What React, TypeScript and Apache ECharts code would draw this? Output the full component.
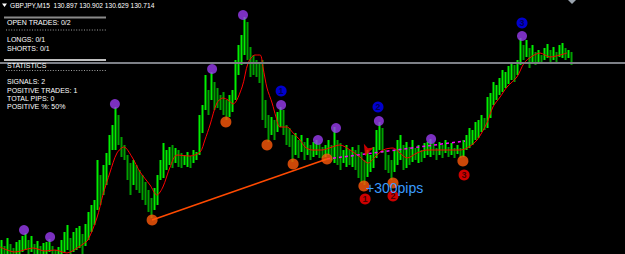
import React, { useEffect, useRef } from "react";
import * as echarts from "echarts";

// Bar highs / lows (GBPJPY M15), one value per bar
const HIGHS = [
  128.94, 128.88, 128.96, 128.90, 128.86, 128.92, 128.94, 128.98, 129.01, 128.94,
  128.98, 128.90, 128.93, 128.88, 128.91, 128.92, 128.95, 128.88, 128.84, 128.87,
  128.94, 129.02, 129.09, 128.96, 129.02, 129.06, 129.08, 129.00, 129.10, 129.22,
  129.29, 129.34, 129.74, 129.59, 129.69, 129.81, 129.99, 130.09, 130.27, 130.19,
  129.97, 129.89, 129.79, 129.71, 129.74, 129.69, 129.64, 129.59, 129.52, 129.44,
  129.36, 129.46, 129.59, 129.74, 129.91, 129.84, 129.87, 129.89, 129.86, 129.84,
  129.81, 129.79, 129.82, 129.78, 129.84, 129.82, 130.19, 130.29, 130.59, 130.44,
  130.62, 130.52, 130.46, 130.39, 130.42, 130.34, 130.39, 130.44, 130.74, 130.89,
  130.99, 131.17, 131.12, 130.87, 130.79, 130.74, 130.71, 130.74, 130.34, 130.19,
  130.17, 130.14, 130.22, 130.27, 130.24, 130.09, 130.06, 129.99, 130.01, 129.94,
  129.99, 129.92, 129.96, 129.89, 129.92, 129.94, 129.91, 129.87, 129.89, 129.94,
  129.89, 130.07, 129.94, 129.91, 129.84, 129.89, 129.84, 129.87, 129.84, 129.89,
  129.82, 129.74, 129.84, 129.79, 129.87, 130.04, 130.12, 130.06, 129.84, 129.79,
  129.74, 129.84, 129.94, 129.99, 129.89, 129.92, 129.87, 129.94, 129.86, 129.89,
  129.84, 129.91, 129.92, 129.95, 129.91, 129.86, 129.92, 129.89, 129.94, 129.87,
  129.91, 129.86, 129.89, 129.86, 129.94, 129.99, 130.06, 130.04, 130.12, 130.14,
  130.19, 130.16, 130.37, 130.41, 130.52, 130.49, 130.56, 130.64, 130.62, 130.68,
  130.72, 130.69, 130.74, 130.96, 130.89, 130.94, 130.86, 130.89, 130.82, 130.84,
  130.79, 130.86, 130.90, 130.84, 130.87, 130.82, 130.89, 130.91, 130.86, 130.84, 130.82,
];
const LOWS = [
  128.76, 128.76, 128.78, 128.76, 128.74, 128.78, 128.80, 128.82, 128.84, 128.80,
  128.82, 128.78, 128.79, 128.76, 128.78, 128.80, 128.82, 128.78, 128.76, 128.76,
  128.78, 128.82, 128.84, 128.80, 128.82, 128.84, 128.86, 128.80, 128.88, 128.94,
  129.02, 129.09, 129.24, 129.29, 129.39, 129.49, 129.69, 129.84, 129.84, 129.89,
  129.77, 129.74, 129.54, 129.39, 129.49, 129.44, 129.41, 129.34, 129.29, 129.22,
  129.16, 129.24, 129.29, 129.54, 129.56, 129.64, 129.69, 129.66, 129.71, 129.67,
  129.66, 129.69, 129.67, 129.66, 129.71, 129.74, 129.79, 130.01, 130.24, 130.19,
  130.34, 130.24, 130.26, 130.24, 130.19, 130.14, 130.17, 130.22, 130.34, 130.59,
  130.69, 130.79, 130.74, 130.57, 130.59, 130.57, 130.51, 130.14, 130.06, 129.92,
  129.99, 129.94, 130.02, 130.07, 129.99, 129.89, 129.87, 129.72, 129.79, 129.76,
  129.82, 129.74, 129.79, 129.74, 129.77, 129.79, 129.76, 129.76, 129.77, 129.79,
  129.74, 129.71, 129.69, 129.64, 129.71, 129.67, 129.69, 129.67, 129.64, 129.56,
  129.51, 129.49, 129.57, 129.62, 129.66, 129.76, 129.84, 129.81, 129.64, 129.61,
  129.54, 129.62, 129.69, 129.74, 129.64, 129.66, 129.69, 129.72, 129.74, 129.71,
  129.72, 129.76, 129.79, 129.77, 129.79, 129.74, 129.79, 129.76, 129.81, 129.77,
  129.79, 129.76, 129.80, 129.76, 129.77, 129.84, 129.86, 129.89, 129.94, 129.96,
  130.02, 130.04, 130.06, 130.16, 130.29, 130.34, 130.39, 130.42, 130.46, 130.50,
  130.54, 130.52, 130.59, 130.69, 130.74, 130.77, 130.66, 130.72, 130.69, 130.72,
  130.71, 130.74, 130.76, 130.72, 130.74, 130.71, 130.77, 130.76, 130.74, 130.76, 130.69,
];

// Moving average read at points along the red line: [bar index, price]
const MA_POINTS = [
  [-0.5, 128.87], [4.5, 128.82], [10.5, 128.86], [14.5, 128.83], [17.8, 128.84],
  [21.8, 128.81], [25.2, 128.86], [27.2, 128.9], [28.8, 128.94], [31.8, 129.16],
  [33.8, 129.39], [36.2, 129.62], [38.5, 129.81], [40.8, 129.87], [43.5, 129.77],
  [46.2, 129.62], [49.5, 129.49], [51.8, 129.39], [53.8, 129.47], [56.2, 129.67],
  [58.5, 129.79], [62.8, 129.78], [66.2, 129.82], [67.8, 129.94], [69.5, 130.09],
  [71.8, 130.31], [73.8, 130.36], [75.5, 130.34], [77.2, 130.3], [80.2, 130.47],
  [82.2, 130.71], [84.5, 130.79], [86.2, 130.79], [87.2, 130.66], [88.5, 130.46],
  [90.2, 130.31], [91.5, 130.17], [92.8, 130.07], [95.2, 130.07], [97.2, 130.01],
  [99.5, 129.94], [101.2, 129.87], [103.5, 129.84], [106.8, 129.84], [110.2, 129.87],
  [112.8, 129.89], [116.2, 129.84], [119.5, 129.77], [122.2, 129.71], [124.5, 129.77],
  [127.2, 129.84], [130.5, 129.86], [132.8, 129.81], [135.2, 129.76], [138.5, 129.81],
  [141.8, 129.84], [147.2, 129.84], [152.8, 129.84], [155.2, 129.86], [158.5, 129.94],
  [161.8, 130.11], [163.8, 130.27], [166.2, 130.37], [168.5, 130.47], [171.8, 130.57],
  [174.2, 130.71], [176.5, 130.77], [179.5, 130.81], [182.8, 130.77], [186.2, 130.79],
  [188.5, 130.81],
];

const PEAKS = [
  [7.5, 129.04], [16.2, 128.97], [37.8, 130.3], [70.2, 130.65], [80.5, 131.19],
  [93.2, 130.29], [105.5, 129.94], [111.5, 130.06], [125.8, 130.13], [143.2, 129.95],
  [173.5, 130.98],
];
const TROUGHS = [
  [50.2, 129.14], [74.8, 130.12], [88.5, 129.89], [97.2, 129.7], [108.5, 129.75],
  [120.8, 129.48], [130.5, 129.51], [153.8, 129.73],
];
const BLUE_SIGNALS = [[93.2, 130.43, "1"], [125.5, 130.27, "2"], [173.5, 131.11, "3"]];
const RED_SIGNALS = [[121.2, 129.35, "1"], [130.5, 129.38, "2"], [154.2, 129.59, "3"]];
const TREND_LINE = [[50.2, 129.14], [108.5, 129.75]];
const MAGENTA_LINE = [[108.5, 129.75], [154.5, 129.93]];
const ARROW = [[121.2, 129.78]];
const BID = 130.714;

const HEADER = "GBPJPY,M15  130.897 130.902 130.629 130.714";
const PANEL_TEXTS = [
  ["OPEN TRADES: 0/2", 22.5],
  ["LONGS: 0/1", 39.5],
  ["SHORTS: 0/1", 48.3],
  ["STATISTICS", 65],
  ["SIGNALS: 2", 81.7],
  ["POSITIVE TRADES: 1", 90.5],
  ["TOTAL PIPS: 0", 98.5],
  ["POSITIVE %: 50%", 106.8],
];
const PIPS_LABEL = "+300pips";

export default function App() {
  const ref = useRef<HTMLDivElement>(null);
  useEffect(() => {
    document.body.style.margin = "0";
    document.body.style.background = "#000";
    const chart = echarts.init(ref.current!, null, { renderer: "svg" });
    const bars = HIGHS.map((h, i) => {
      const mid = (h + LOWS[i]) / 2;
      const prevMid = i > 0 ? (HIGHS[i - 1] + LOWS[i - 1]) / 2 : mid;
      return [i, h, LOWS[i], mid >= prevMid ? 1 : 0];
    });
    const font = '7px "Liberation Sans", Arial, sans-serif';
    const headerFont = '6.6px "Liberation Sans", Arial, sans-serif';
    const panelGraphics: any[] = PANEL_TEXTS.map(([t, y]) => ({
      type: "text",
      x: 7,
      y: y as number,
      style: { text: t, fill: "#ffffff", font, textVerticalAlign: "middle" },
      z: 100,
    }));
    const dotted = (y: number) => ({
      type: "line",
      shape: { x1: 6, y1: y, x2: 106, y2: y },
      style: { stroke: "#a0a0a0", lineWidth: 1, lineDash: [1, 1.6] },
      z: 100,
    });
    const option: any = {
      animation: false,
      backgroundColor: "#000",
      grid: { left: 0, right: 0, top: 0, bottom: 0, containLabel: false },
      xAxis: { type: "value", min: -0.5, max: 207.83, show: false },
      yAxis: { type: "value", min: 128.8, max: 131.34, show: false, scale: true },
      series: [
        {
          type: "custom",
          clip: true,
          data: bars,
          renderItem: (params: any, api: any) => {
            const i = api.value(0);
            const hi = api.coord([i, api.value(1)]);
            const lo = api.coord([i, api.value(2)]);
            return {
              type: "line",
              shape: { x1: hi[0], y1: hi[1], x2: lo[0], y2: lo[1] },
              style: { stroke: api.value(3) ? "#00ee00" : "#00a000", lineWidth: 2 },
            };
          },
          markLine: {
            silent: true,
            symbol: "none",
            label: { show: false },
            lineStyle: { color: "#7d8087", width: 2, type: "solid" },
            data: [{ yAxis: BID }],
          },
          z: 1,
        },
        {
          type: "line",
          data: MA_POINTS,
          smooth: 0.3,
          showSymbol: false,
          lineStyle: { color: "#ff0000", width: 1 },
          z: 2,
        },
        {
          type: "line",
          data: TREND_LINE,
          showSymbol: false,
          lineStyle: { color: "#ff4a00", width: 1.5 },
          z: 3,
        },
        {
          type: "line",
          data: MAGENTA_LINE,
          showSymbol: false,
          lineStyle: { color: "#ff00ff", width: 1.5, type: [3, 3] },
          z: 3,
        },
        {
          type: "scatter",
          data: ARROW,
          symbol: "arrow",
          symbolSize: [8, 11],
          symbolRotate: 160,
          itemStyle: { color: "#ff0000" },
          z: 4,
        },
        {
          type: "scatter",
          data: PEAKS,
          symbolSize: 10,
          itemStyle: { color: "#9a3cf0" },
          z: 5,
        },
        {
          type: "scatter",
          data: TROUGHS,
          symbolSize: 11,
          itemStyle: { color: "#ff5a0a" },
          z: 5,
        },
        {
          type: "scatter",
          data: BLUE_SIGNALS,
          symbolSize: 11,
          itemStyle: { color: "#0000ff" },
          label: {
            show: true,
            position: "inside",
            formatter: (p: any) => p.value[2],
            color: "#000033",
            fontSize: 9,
            fontWeight: "bold",
            fontFamily: "Liberation Sans",
          },
          z: 6,
        },
        {
          type: "scatter",
          data: RED_SIGNALS,
          symbolSize: 11,
          itemStyle: { color: "#ff0000" },
          label: {
            show: true,
            position: "inside",
            formatter: (p: any) => p.value[2],
            color: "#220000",
            fontSize: 9,
            fontWeight: "bold",
            fontFamily: "Liberation Sans",
          },
          z: 6,
        },
      ],
      graphic: [
        {
          type: "polygon",
          shape: { points: [[2, 3.5], [7, 3.5], [4.5, 7]] },
          style: { fill: "#ffffff" },
          z: 100,
        },
        {
          type: "text",
          x: 10,
          y: 5.5,
          style: { text: HEADER, fill: "#ffffff", font: headerFont, textVerticalAlign: "middle" },
          z: 100,
        },
        {
          type: "polygon",
          shape: { points: [[566, -2], [578, -2], [572, 4]] },
          style: { fill: "#9aa4ae" },
          z: 100,
        },
        {
          type: "line",
          shape: { x1: 4, y1: 17.5, x2: 106, y2: 17.5 },
          style: { stroke: "#8a8a8a", lineWidth: 2 },
          z: 100,
        },
        dotted(30),
        {
          type: "line",
          shape: { x1: 4, y1: 60, x2: 106, y2: 60 },
          style: { stroke: "#ffffff", lineWidth: 1.5 },
          z: 100,
        },
        dotted(70.5),
        ...panelGraphics,
        {
          type: "text",
          x: 366,
          y: 188,
          style: {
            text: PIPS_LABEL,
            fill: "#3a9cff",
            font: '14px "Liberation Sans", Arial, sans-serif',
            textVerticalAlign: "middle",
          },
          z: 100,
        },
      ],
    };
    chart.setOption(option);
    return () => chart.dispose();
  }, []);
  return (
    <div
      ref={ref}
      style={{ position: "fixed", left: 0, top: 0, width: 625, height: 254, background: "#000" }}
    />
  );
}
